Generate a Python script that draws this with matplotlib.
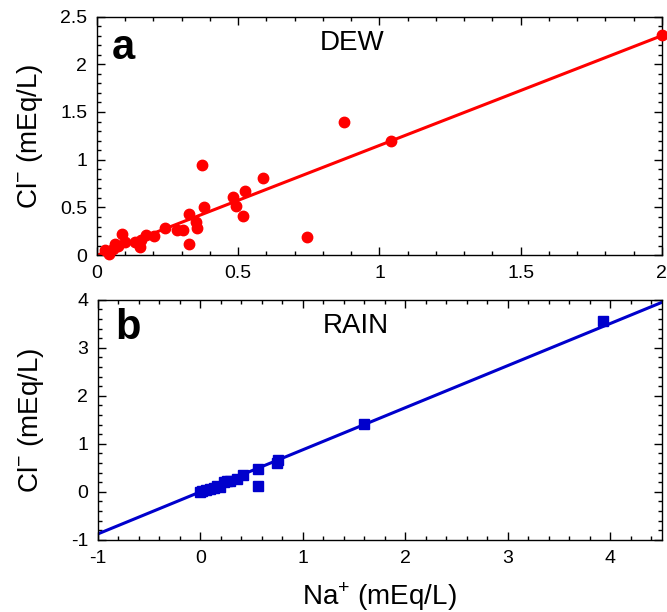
import numpy as np
import matplotlib
matplotlib.use("Agg")
import matplotlib.pyplot as plt
from matplotlib.ticker import MultipleLocator, FormatStrFormatter

plt.rcParams['font.family'] = ['Liberation Sans', 'DejaVu Sans']
plt.rcParams['mathtext.fontset'] = 'custom'
plt.rcParams['mathtext.rm'] = 'Liberation Sans'
plt.rcParams['axes.unicode_minus'] = False

# panel a - dew
dew_na = [0.028, 0.044, 0.058, 0.064, 0.075, 0.087, 0.099, 0.135, 0.152, 0.155,
          0.173, 0.202, 0.241, 0.284, 0.305, 0.327, 0.327, 0.350, 0.355, 0.371,
          0.379, 0.480, 0.492, 0.516, 0.524, 0.589, 0.742, 0.874, 1.040, 2.000]
dew_cl = [0.05, 0.01, 0.07, 0.12, 0.10, 0.22, 0.14, 0.14, 0.09, 0.16,
          0.21, 0.20, 0.28, 0.26, 0.26, 0.43, 0.12, 0.35, 0.29, 0.95,
          0.50, 0.61, 0.52, 0.41, 0.67, 0.81, 0.19, 1.40, 1.20, 2.31]
dew_fit = [1.15, 0.0]   # slope, intercept

# panel b - rain
rain_na = [0.00, 0.016, 0.05, 0.097, 0.13, 0.16, 0.19, 0.226, 0.26, 0.29,
           0.355, 0.413, 0.565, 0.565, 0.749, 0.76, 1.60, 3.93]
rain_cl = [0.00, 0.025, 0.04, 0.06, 0.08, 0.13, 0.10, 0.20, 0.22, 0.23,
           0.27, 0.34, 0.48, 0.115, 0.60, 0.66, 1.42, 3.55]
rain_fit = [0.877, 0.0]

fig = plt.figure(figsize=(6.67, 6.12), dpi=100)
axa = fig.add_axes([0.1454, 0.583, 0.847, 0.39])
axb = fig.add_axes([0.1469, 0.118, 0.845, 0.392])

def style(ax):
    ax.tick_params(which='both', direction='in', top=True, right=True,
                   labelsize=14, width=1, pad=7)
    ax.tick_params(which='major', length=6)
    ax.tick_params(which='minor', length=3)
    for s in ax.spines.values():
        s.set_linewidth(1)

# a
xx = np.array([0, 2])
axa.plot(xx, dew_fit[0] * xx + dew_fit[1], color='#ff0000', lw=2.2, zorder=2)
axa.plot(dew_na, dew_cl, 'o', color='#ff0000', ms=7.5, mec='#ff0000', zorder=3,
         clip_on=False)
axa.set_xlim(0, 2)
axa.set_ylim(0, 2.5)
axa.xaxis.set_major_locator(MultipleLocator(0.5))
axa.xaxis.set_minor_locator(MultipleLocator(0.1))
axa.yaxis.set_major_locator(MultipleLocator(0.5))
axa.yaxis.set_minor_locator(MultipleLocator(0.1))
axa.xaxis.set_major_formatter(FormatStrFormatter('%g'))
axa.yaxis.set_major_formatter(FormatStrFormatter('%g'))
style(axa)
axa.set_ylabel('Cl$^{-}$ (mEq/L)', fontsize=20)
axa.yaxis.set_label_coords(-0.092, 0.5)
axa.text(0.046, 0.868, 'a', transform=axa.transAxes, fontsize=30,
         fontweight='bold', va='center', ha='center')
axa.text(0.451, 0.889, 'DEW', transform=axa.transAxes, fontsize=20,
         va='center', ha='center')

# b
xx = np.array([-1, 4.5])
axb.plot(xx, rain_fit[0] * xx + rain_fit[1], color='#0000cc', lw=2.2, zorder=2)
axb.plot(rain_na, rain_cl, 's', color='#0000cc', ms=7, mec='#0000cc', zorder=3)
axb.set_xlim(-1, 4.5)
axb.set_ylim(-1, 4)
axb.xaxis.set_major_locator(MultipleLocator(1))
axb.xaxis.set_minor_locator(MultipleLocator(0.2))
axb.yaxis.set_major_locator(MultipleLocator(1))
axb.yaxis.set_minor_locator(MultipleLocator(0.2))
axb.xaxis.set_major_formatter(FormatStrFormatter('%g'))
axb.yaxis.set_major_formatter(FormatStrFormatter('%g'))
style(axb)
axb.set_ylabel('Cl$^{-}$ (mEq/L)', fontsize=20)
axb.yaxis.set_label_coords(-0.092, 0.5)
axb.set_xlabel('Na$^{+}$ (mEq/L)', fontsize=20, labelpad=10)
axb.text(0.053, 0.883, 'b', transform=axb.transAxes, fontsize=30,
         fontweight='bold', va='center', ha='center')
axb.text(0.457, 0.892, 'RAIN', transform=axb.transAxes, fontsize=20,
         va='center', ha='center')

fig.savefig('out.png', dpi=100)
